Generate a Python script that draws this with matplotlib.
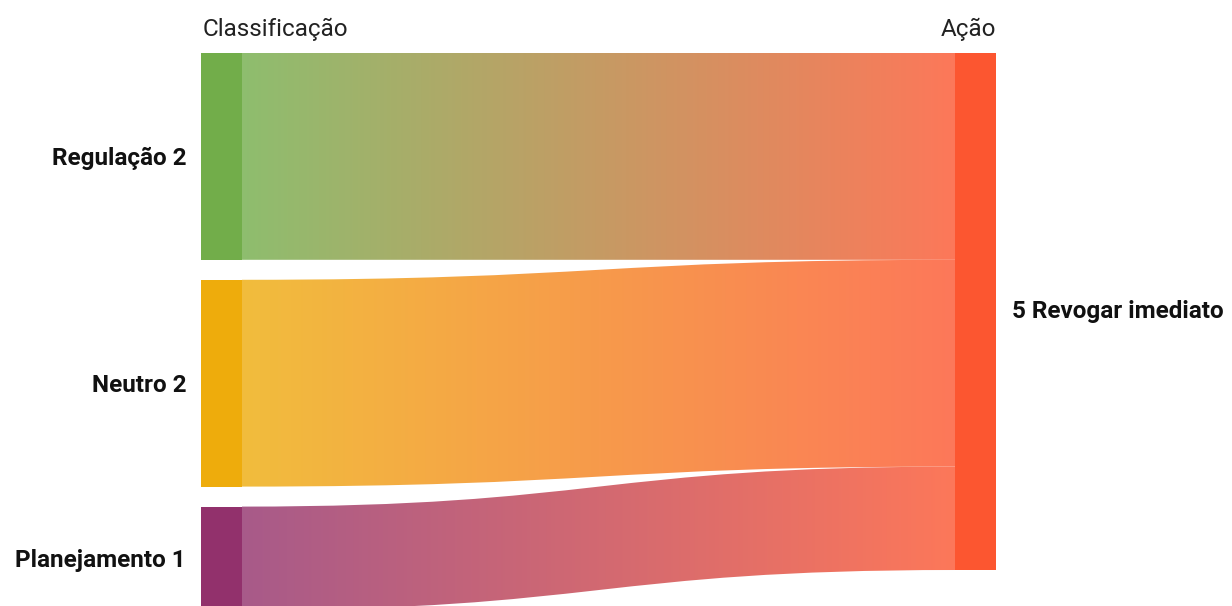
import numpy as np
import matplotlib.pyplot as plt
from matplotlib.patches import Rectangle, PathPatch
from matplotlib.path import Path
from matplotlib.colors import to_rgb

plt.rcParams['font.family'] = ['Roboto', 'DejaVu Sans']

# data
sources = ['Regulação', 'Neutro', 'Planejamento']
source_values = [2, 2, 1]
source_colors = ['#72ad4a', '#eeac0c', '#92316c']
target = 'Revogar imediato'
target_color = '#fc5630'
header_left = 'Classificação'
header_right = 'Ação'

# layout in pixel units
W, H = 1232, 606
top = 53
unit = 103.4
gap = 20
node_w = 41
x_left = 201
x_right = 955

fig = plt.figure(figsize=(W / 100, H / 100), dpi=100)
ax = fig.add_axes([0, 0, 1, 1])
ax.set_xlim(0, W)
ax.set_ylim(H, 0)
ax.axis('off')


def blend(c, a=0.8):
    c = np.array(to_rgb(c))
    return c * a + (1 - a)


def band(x0, y0a, y0b, x1, y1a, y1b):
    xm = (x0 + x1) / 2
    verts = [(x0, y0a), (xm, y0a), (xm, y1a), (x1, y1a),
             (x1, y1b), (xm, y1b), (xm, y0b), (x0, y0b), (x0, y0a)]
    codes = [Path.MOVETO, Path.CURVE4, Path.CURVE4, Path.CURVE4,
             Path.LINETO, Path.CURVE4, Path.CURVE4, Path.CURVE4, Path.CLOSEPOLY]
    return Path(verts, codes)


y_src = top
y_tgt = top
total = sum(source_values)
for name, v, col in zip(sources, source_values, source_colors):
    h = v * unit
    # link with gradient
    lx0 = x_left + node_w
    lx1 = x_right + 1
    path = band(lx0, y_src, y_src + h, lx1, y_tgt, y_tgt + h)
    patch = PathPatch(path, facecolor='none', edgecolor='none')
    ax.add_patch(patch)
    c0, c1 = blend(col), blend(target_color)
    t = np.linspace(0, 1, 256)
    grad = (c0[None, :] * (1 - t[:, None]) + c1[None, :] * t[:, None])[None, :, :]
    ymin = min(y_src, y_tgt) - 2
    ymax = max(y_src, y_tgt) + h + 2
    im = ax.imshow(grad, extent=[lx0, lx1, ymax, ymin], aspect='auto',
                   interpolation='bilinear', zorder=1)
    im.set_clip_path(patch)
    # source node
    ax.add_patch(Rectangle((x_left, y_src), node_w, h, facecolor=col,
                           edgecolor='none', zorder=2))
    ax.text(x_left - 15, y_src + h / 2 + 2, f'{name} {v}', ha='right', va='center',
            fontsize=17.5, fontweight='bold', color='#111111')
    y_src += h + gap
    y_tgt += h

# target node
ax.add_patch(Rectangle((x_right, top), node_w, total * unit,
                       facecolor=target_color, edgecolor='none', zorder=2))
ax.text(x_right + node_w + 16, top + total * unit / 2, f'{total} {target}',
        ha='left', va='center', fontsize=17.5, fontweight='bold', color='#111111')

ax.text(x_left + 2, 29, header_left, ha='left', va='center', fontsize=17.5,
        color='#222222')
ax.text(x_right + node_w, 29, header_right, ha='right', va='center',
        fontsize=17.5, color='#222222')

fig.savefig('out.png', dpi=100)
